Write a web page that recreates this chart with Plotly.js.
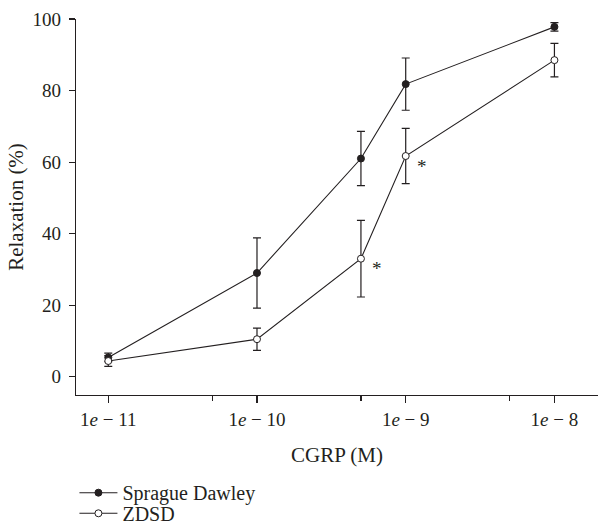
<!DOCTYPE html>
<html>
<head>
<meta charset="utf-8">
<script src="https://cdn.plot.ly/plotly-3.0.1.min.js"></script>
<style>html,body{margin:0;padding:0;background:#fff;}#chart{width:598px;height:527px;}</style>
</head>
<body>
<div id="chart"></div>
<script>
// Data
const concentrations = [1e-11, 1e-10, 5e-10, 1e-9, 1e-8];
const sdMean = [5.4, 29.0, 61.0, 81.8, 97.8];
const sdErr = [1.2, 9.8, 7.6, 7.3, 1.2];
const zdsdMean = [4.4, 10.5, 33.0, 61.7, 88.5];
const zdsdErr = [1.5, 3.1, 10.7, 7.7, 4.7];
const seriesNames = ['Sprague Dawley', 'ZDSD'];
const xTickVals = [1e-11, 1e-10, 1e-9, 1e-8];
const xTickText = ['1<i>e</i> − 11', '1<i>e</i> − 10', '1<i>e</i> − 9', '1<i>e</i> − 8'];
const xMinorVals = [5e-11, 5e-10, 5e-9];
const yTickVals = [0, 20, 40, 60, 80, 100];
const sigX = [5e-10, 1e-9];
const sigY = [33.0, 61.7];

const FONT = 'Liberation Serif, Times New Roman, serif';
const INK = '#231f20';

const traces = [
  {
    x: concentrations, y: sdMean, name: seriesNames[0], type: 'scatter', mode: 'lines+markers',
    legend: 'legend',
    line: {color: INK, width: 1.1},
    marker: {symbol: 'circle', size: 7, color: INK, line: {color: INK, width: 1}},
    error_y: {type: 'data', array: sdErr, visible: true, color: INK, thickness: 1.2, width: 4}
  },
  {
    x: concentrations, y: zdsdMean, name: seriesNames[1], type: 'scatter', mode: 'lines+markers',
    legend: 'legend2',
    line: {color: INK, width: 1.1},
    marker: {symbol: 'circle', size: 7, color: '#ffffff', line: {color: INK, width: 1}},
    error_y: {type: 'data', array: zdsdErr, visible: true, color: INK, thickness: 1.2, width: 4}
  }
];

const annotations = sigX.map((x, i) => ({
  x: Math.log10(x), y: sigY[i], xref: 'x', yref: 'y', text: '*', showarrow: false,
  xshift: 16, yshift: -10, font: {family: FONT, size: 19, color: INK}
}));

const legendBase = {
  xanchor: 'left', yanchor: 'middle', orientation: 'v', itemwidth: 38,
  font: {family: FONT, size: 20, color: INK}, bgcolor: 'rgba(0,0,0,0)', borderwidth: 0
};

const layout = {
  width: 598, height: 527,
  margin: {l: 76, r: 0, t: 19, b: 132, autoexpand: false},
  paper_bgcolor: '#ffffff', plot_bgcolor: '#ffffff',
  font: {family: FONT, size: 19, color: INK},
  showlegend: true,
  legend: Object.assign({}, legendBase, {x: -0.003, y: -0.2598}),
  legend2: Object.assign({}, legendBase, {x: -0.003, y: -0.3146}),
  xaxis: {
    type: 'log', range: [-11.217, -7.707], showgrid: false, zeroline: false,
    showline: true, linecolor: INK, linewidth: 1.2,
    ticks: 'outside', ticklen: 7, tickwidth: 1.2, tickcolor: INK,
    tickmode: 'array', tickvals: xTickVals, ticktext: xTickText,
    tickfont: {family: FONT, size: 19, color: INK},
    minor: {tickmode: 'array', tickvals: xMinorVals, ticks: 'outside', ticklen: 5, tickwidth: 1.2, tickcolor: INK, showgrid: false},
    title: {text: 'CGRP (M)', font: {family: FONT, size: 21, color: INK}, standoff: 18}
  },
  yaxis: {
    range: [-5.1, 100], showgrid: false, zeroline: false,
    showline: true, linecolor: INK, linewidth: 1.2,
    ticks: 'outside', ticklen: 6, tickwidth: 1.2, tickcolor: INK,
    tickmode: 'array', tickvals: yTickVals, ticklabelstandoff: 4,
    tickfont: {family: FONT, size: 19, color: INK},
    title: {text: 'Relaxation (%)', font: {family: FONT, size: 21, color: INK}, standoff: 3}
  },
  annotations: annotations
};

Plotly.newPlot('chart', traces, layout, {displayModeBar: false, staticPlot: true});
</script>
</body>
</html>
